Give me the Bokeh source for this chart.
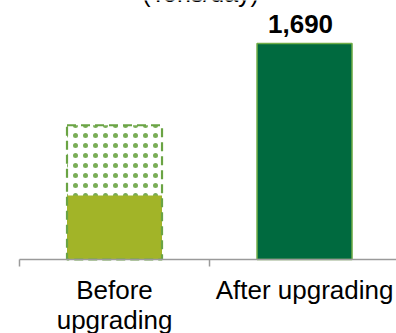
from bokeh.plotting import figure
from bokeh.models import Range1d
from bokeh.core.properties import value
from bokeh.embed import file_html
from bokeh.resources import INLINE

# ---- data ----
categories = ["Before\nupgrading", "After upgrading"]
cat_pos = [0.5, 1.5]
before_actual = [500]      # solid part of "before" bar
before_potential = [1050]  # dashed/dotted outline of "before" bar
after_value = [1690]
after_label = ["1,690"]
title_text = "(Tons/day)"

FONT = "Liberation Sans"
bw = 0.5

p = figure(width=396, height=333, output_backend="svg", toolbar_location=None,
           x_range=Range1d(-0.1, 1.984), y_range=Range1d(-579, 2026),
           min_border=0, min_border_left=0, min_border_right=0,
           min_border_top=0, min_border_bottom=0)
p.axis.visible = False
p.grid.visible = False
p.outline_line_color = None
p.background_fill_color = "white"
p.border_fill_color = "white"

# before: dotted potential box
p.quad(left=[cat_pos[0] - bw / 2], right=[cat_pos[0] + bw / 2], bottom=[0], top=before_potential,
       fill_color=None, line_color=None, hatch_pattern="dot", hatch_color="#6AA444",
       hatch_scale=10, hatch_weight=1, hatch_alpha=0.9)
# before: solid part
p.quad(left=[cat_pos[0] - bw / 2], right=[cat_pos[0] + bw / 2], bottom=[0], top=before_actual,
       fill_color="#A2B428", line_color=None)
# before: dashed outline
p.quad(left=[cat_pos[0] - bw / 2], right=[cat_pos[0] + bw / 2], bottom=[0], top=before_potential,
       fill_color=None, line_color="#6AA444", line_width=2.2, line_dash="9 5")
# after bar
p.quad(left=[cat_pos[1] - bw / 2], right=[cat_pos[1] + bw / 2], bottom=[0], top=after_value,
       fill_color="#006A3F", line_color="#70AD47", line_width=1.5)

# axis line and ticks
p.segment(x0=[0], y0=[0], x1=[2], y1=[0], line_color="#9A9A9A", line_width=1.5)
p.segment(x0=[0, 1, 2], y0=[0, 0, 0], x1=[0, 1, 2], y1=[-55, -55, -55],
          line_color="#9A9A9A", line_width=1.5)

# category labels
p.text(x=cat_pos, y=[0, 0], text=categories, text_font=value(FONT),
       text_font_size="26px", text_align="center", text_baseline="top",
       text_line_height=0.97, y_offset=16, text_color="#000000")

# value label
p.text(x=[cat_pos[1]], y=after_value, text=after_label, text_font=value(FONT),
       text_font_size="26px", text_font_style="bold", text_align="center",
       text_baseline="alphabetic", y_offset=-19, x_offset=-4, text_color="#000000")

# (cropped) title
p.text(x=[1], y=[2026], text=[title_text], text_font=value(FONT),
       text_font_size="25px", text_align="center", text_baseline="alphabetic",
       y_offset=-8, x_offset=-9, text_color="#000000")

open("out.html", "w").write(file_html(p, INLINE))
